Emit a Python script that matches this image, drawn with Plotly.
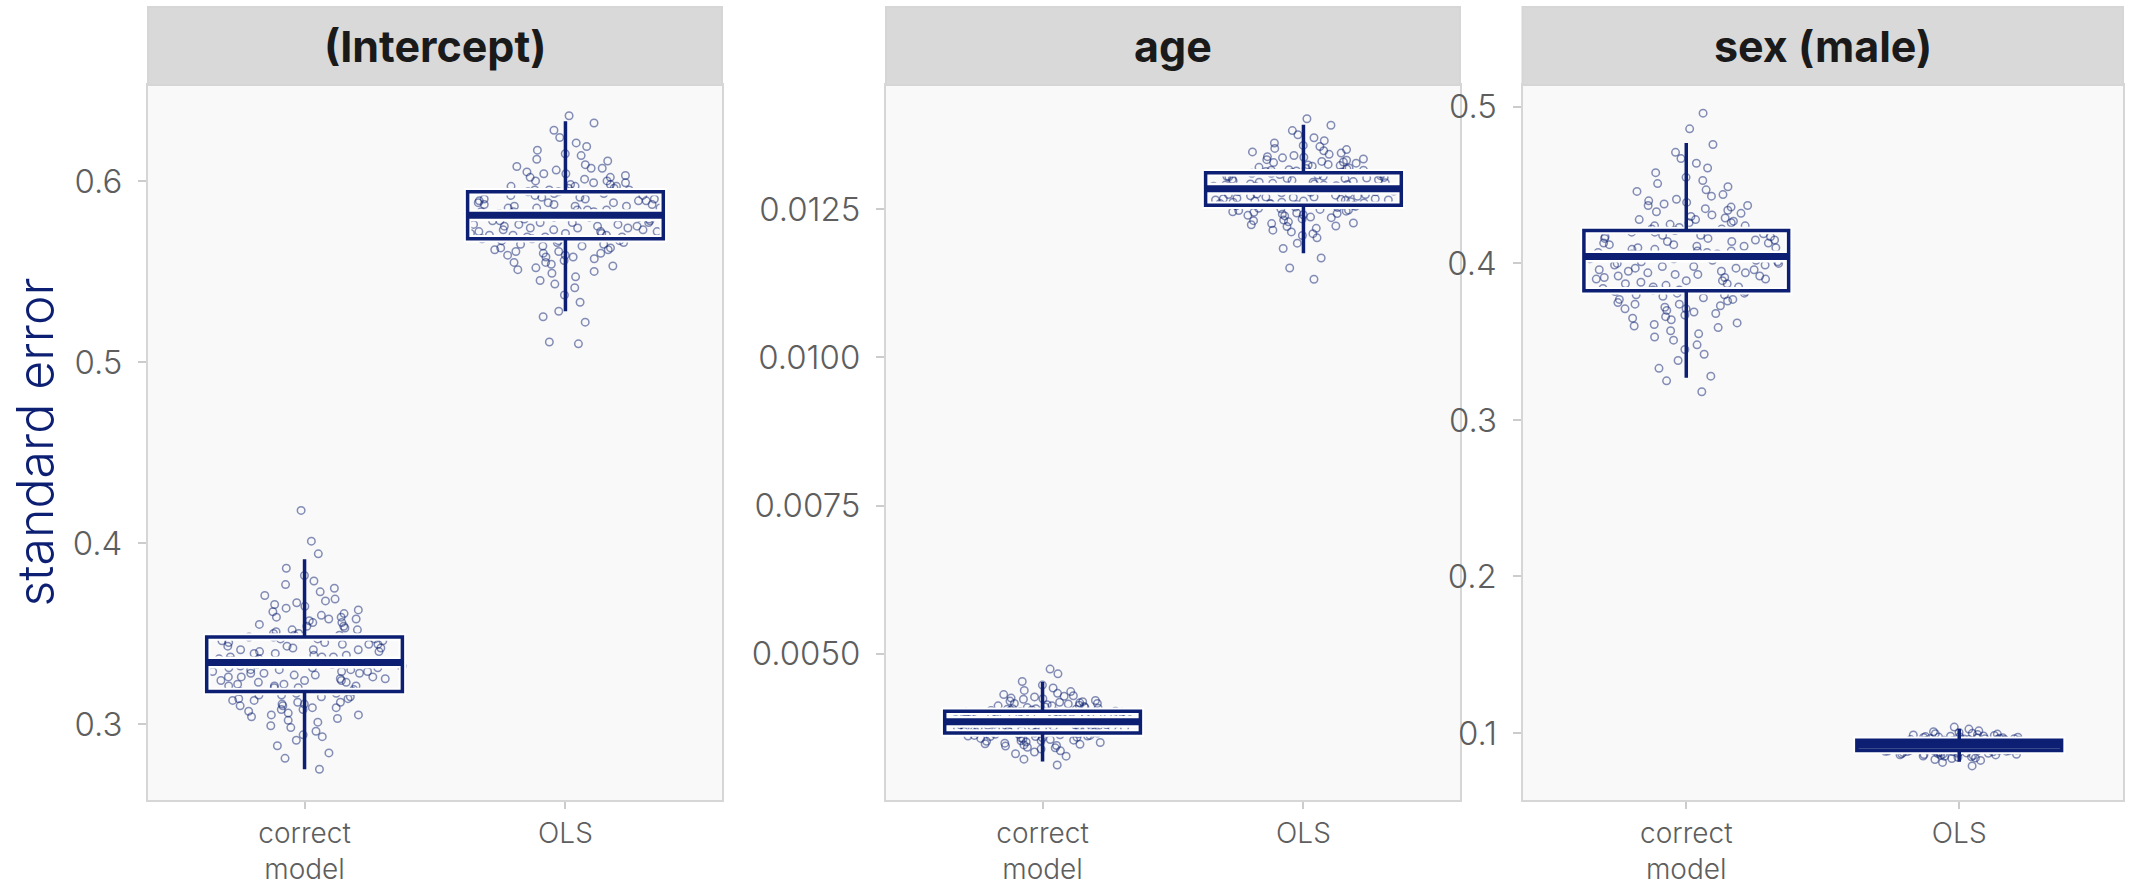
import plotly.graph_objects as go

# ---------------- data ----------------
categories = ["correct model", "OLS"]
tick_labels = ["correct<br>model", "OLS"]
facet_titles = ["(Intercept)", "age", "sex (male)"]

intercept_correct = [
    0.275, 0.281, 0.284, 0.288,
    0.291, 0.293, 0.294, 0.296, 0.298, 0.299,
    0.301, 0.302, 0.303, 0.304, 0.305, 0.305, 0.306, 0.307, 0.308, 0.308, 0.309, 0.309,
    0.310, 0.310, 0.311, 0.311, 0.312, 0.312, 0.313, 0.313, 0.314, 0.314, 0.315, 0.315, 0.316, 0.316, 0.317, 0.317, 0.318, 0.318, 0.319,
    0.320, 0.320, 0.321, 0.321, 0.321, 0.322, 0.322, 0.323, 0.323, 0.324, 0.324, 0.324, 0.325, 0.325, 0.326, 0.326, 0.326, 0.327, 0.327, 0.328, 0.328, 0.328, 0.329, 0.329, 0.329,
    0.330, 0.330, 0.330, 0.331, 0.331, 0.331, 0.332, 0.332, 0.332, 0.333, 0.333, 0.333, 0.334, 0.334, 0.334, 0.335, 0.335, 0.335, 0.336, 0.336, 0.337, 0.337, 0.337, 0.338, 0.338, 0.339, 0.339,
    0.340, 0.340, 0.341, 0.341, 0.341, 0.342, 0.342, 0.343, 0.343, 0.344, 0.344, 0.344, 0.345, 0.345, 0.346, 0.346, 0.347, 0.347, 0.347, 0.348, 0.348, 0.349, 0.349,
    0.350, 0.350, 0.351, 0.352, 0.352, 0.353, 0.354, 0.354, 0.355, 0.356, 0.356, 0.357, 0.358, 0.358, 0.359, 0.359,
    0.360, 0.361, 0.362, 0.363, 0.364, 0.365, 0.366, 0.367, 0.368, 0.369,
    0.371, 0.373, 0.375, 0.377, 0.379,
    0.382, 0.386, 0.394, 0.401, 0.418,
]
intercept_ols = [
    0.510, 0.511,
    0.522, 0.525, 0.528,
    0.533, 0.537,
    0.541, 0.543, 0.545, 0.547, 0.549,
    0.550, 0.551, 0.552, 0.553, 0.554, 0.555, 0.555, 0.556, 0.557, 0.558, 0.558, 0.559, 0.559,
    0.560, 0.560, 0.561, 0.561, 0.562, 0.562, 0.563, 0.563, 0.564, 0.564, 0.565, 0.565, 0.566, 0.566, 0.567, 0.567, 0.567, 0.568, 0.568, 0.569, 0.569, 0.569,
    0.570, 0.570, 0.570, 0.571, 0.571, 0.571, 0.572, 0.572, 0.572, 0.573, 0.573, 0.573, 0.574, 0.574, 0.574, 0.575, 0.575, 0.575, 0.576, 0.576, 0.576, 0.577, 0.577, 0.577, 0.578, 0.578, 0.578, 0.579, 0.579,
    0.580, 0.580, 0.580, 0.581, 0.581, 0.581, 0.582, 0.582, 0.582, 0.583, 0.583, 0.583, 0.584, 0.584, 0.584, 0.585, 0.585, 0.585, 0.586, 0.586, 0.586, 0.587, 0.587, 0.587, 0.588, 0.588, 0.588, 0.589, 0.589, 0.589,
    0.590, 0.590, 0.590, 0.591, 0.591, 0.592, 0.592, 0.592, 0.593, 0.593, 0.594, 0.594, 0.595, 0.595, 0.595, 0.596, 0.596, 0.597, 0.597, 0.597, 0.598, 0.598, 0.599, 0.599,
    0.600, 0.600, 0.601, 0.602, 0.602, 0.603, 0.604, 0.604, 0.605, 0.606, 0.607, 0.607, 0.608, 0.609,
    0.611, 0.612, 0.614, 0.615, 0.617, 0.619,
    0.621, 0.624, 0.628,
    0.632, 0.636,
]
age_correct = [
    0.00312,
    0.00322, 0.00327,
    0.00331, 0.00334, 0.00336, 0.00339,
    0.00341, 0.00342, 0.00344, 0.00345, 0.00346, 0.00347, 0.00348, 0.00349,
    0.00350, 0.00351, 0.00352, 0.00353, 0.00353, 0.00354, 0.00355, 0.00356, 0.00357, 0.00358, 0.00358, 0.00359,
    0.00360, 0.00360, 0.00361, 0.00361, 0.00362, 0.00362, 0.00363, 0.00364, 0.00364, 0.00365, 0.00366, 0.00366, 0.00367, 0.00367, 0.00368, 0.00369, 0.00369,
    0.00370, 0.00370, 0.00371, 0.00371, 0.00372, 0.00372, 0.00373, 0.00373, 0.00374, 0.00374, 0.00375, 0.00375, 0.00376, 0.00376, 0.00377, 0.00377, 0.00378, 0.00378, 0.00379, 0.00379,
    0.00380, 0.00380, 0.00381, 0.00381, 0.00382, 0.00382, 0.00383, 0.00383, 0.00384, 0.00384, 0.00385, 0.00385, 0.00385, 0.00386, 0.00386, 0.00387, 0.00387, 0.00388, 0.00388, 0.00389, 0.00389,
    0.00390, 0.00390, 0.00391, 0.00391, 0.00392, 0.00392, 0.00393, 0.00393, 0.00394, 0.00394, 0.00395, 0.00395, 0.00396, 0.00396, 0.00397, 0.00397, 0.00398, 0.00398, 0.00399, 0.00399,
    0.00400, 0.00400, 0.00401, 0.00401, 0.00402, 0.00402, 0.00403, 0.00404, 0.00404, 0.00405, 0.00406, 0.00406, 0.00407, 0.00407, 0.00408, 0.00409, 0.00409,
    0.00410, 0.00411, 0.00412, 0.00412, 0.00413, 0.00414, 0.00415, 0.00416, 0.00416, 0.00417, 0.00418, 0.00419,
    0.00420, 0.00421, 0.00423, 0.00424, 0.00425, 0.00427, 0.00428, 0.00429,
    0.00431, 0.00433, 0.00436, 0.00438,
    0.00442, 0.00447,
    0.00453, 0.00466, 0.00474,
]
age_ols = [
    0.01132,
    0.01151,
    0.01168,
    0.01184, 0.01193,
    0.01202, 0.01206, 0.01209, 0.01212, 0.01215, 0.01218,
    0.01221, 0.01222, 0.01224, 0.01226, 0.01227, 0.01229, 0.01231, 0.01232, 0.01234, 0.01236, 0.01237, 0.01239,
    0.01240, 0.01241, 0.01242, 0.01243, 0.01244, 0.01245, 0.01246, 0.01247, 0.01248, 0.01249, 0.01250, 0.01251, 0.01252, 0.01253, 0.01254, 0.01255, 0.01256, 0.01257, 0.01258, 0.01259,
    0.01260, 0.01260, 0.01261, 0.01262, 0.01262, 0.01263, 0.01264, 0.01264, 0.01265, 0.01266, 0.01266, 0.01267, 0.01268, 0.01268, 0.01269, 0.01270, 0.01271, 0.01271, 0.01272, 0.01273, 0.01274, 0.01275, 0.01275, 0.01276, 0.01277, 0.01278, 0.01279,
    0.01280, 0.01280, 0.01281, 0.01282, 0.01282, 0.01283, 0.01284, 0.01284, 0.01285, 0.01285, 0.01286, 0.01287, 0.01287, 0.01288, 0.01289, 0.01289, 0.01290, 0.01291, 0.01291, 0.01292, 0.01293, 0.01293, 0.01294, 0.01295, 0.01296, 0.01296, 0.01297, 0.01298, 0.01299,
    0.01300, 0.01301, 0.01302, 0.01302, 0.01303, 0.01304, 0.01305, 0.01306, 0.01306, 0.01307, 0.01308, 0.01309, 0.01310, 0.01311, 0.01311, 0.01312, 0.01313, 0.01314, 0.01315, 0.01316, 0.01316, 0.01317, 0.01318, 0.01319,
    0.01320, 0.01321, 0.01323, 0.01324, 0.01325, 0.01326, 0.01328, 0.01329, 0.01330, 0.01331, 0.01333, 0.01334, 0.01335, 0.01337, 0.01338, 0.01339,
    0.01341, 0.01343, 0.01345, 0.01347, 0.01349, 0.01351, 0.01353, 0.01356, 0.01358,
    0.01362, 0.01366, 0.01371, 0.01376,
    0.01383, 0.01392, 0.01403,
]
sex_correct = [
    0.318,
    0.325, 0.328,
    0.333, 0.338,
    0.342, 0.345, 0.348,
    0.351, 0.353, 0.355, 0.357, 0.359,
    0.360, 0.361, 0.362, 0.364, 0.365, 0.366, 0.367, 0.368, 0.369,
    0.370, 0.371, 0.371, 0.372, 0.373, 0.374, 0.374, 0.375, 0.376, 0.377, 0.377, 0.378, 0.379,
    0.380, 0.380, 0.381, 0.381, 0.382, 0.382, 0.383, 0.383, 0.384, 0.385, 0.385, 0.386, 0.387, 0.387, 0.388, 0.389, 0.389,
    0.390, 0.390, 0.391, 0.391, 0.392, 0.392, 0.393, 0.393, 0.394, 0.394, 0.395, 0.395, 0.396, 0.396, 0.397, 0.397, 0.398, 0.398, 0.399, 0.399,
    0.400, 0.400, 0.401, 0.401, 0.402, 0.402, 0.403, 0.403, 0.404, 0.404, 0.405, 0.405, 0.405, 0.406, 0.406, 0.407, 0.407, 0.408, 0.408, 0.409, 0.409,
    0.410, 0.410, 0.411, 0.411, 0.412, 0.412, 0.413, 0.413, 0.414, 0.414, 0.415, 0.415, 0.416, 0.416, 0.417, 0.417, 0.418, 0.418, 0.419,
    0.420, 0.420, 0.421, 0.422, 0.422, 0.423, 0.424, 0.424, 0.425, 0.426, 0.426, 0.427, 0.428, 0.428, 0.429,
    0.430, 0.431, 0.432, 0.433, 0.434, 0.435, 0.436, 0.437, 0.437, 0.438, 0.439,
    0.440, 0.441, 0.443, 0.444, 0.446, 0.447, 0.449,
    0.451, 0.453, 0.455, 0.458,
    0.461, 0.464, 0.467,
    0.471, 0.476, 0.486, 0.496,
]
sex_ols = [
    0.0790,
    0.0812,
    0.0825, 0.0831, 0.0837,
    0.0841, 0.0845, 0.0848, 0.0851, 0.0853, 0.0856, 0.0858,
    0.0860, 0.0861, 0.0863, 0.0864, 0.0865, 0.0867, 0.0868, 0.0870, 0.0871, 0.0873, 0.0874, 0.0876, 0.0877, 0.0879,
    0.0880, 0.0881, 0.0882, 0.0883, 0.0884, 0.0885, 0.0886, 0.0886, 0.0887, 0.0888, 0.0889,
    0.0890, 0.0891, 0.0892, 0.0893, 0.0893, 0.0894, 0.0895, 0.0896, 0.0897, 0.0898, 0.0899,
    0.0900, 0.0901, 0.0901, 0.0902, 0.0903, 0.0903, 0.0904, 0.0905, 0.0905, 0.0906, 0.0907, 0.0907, 0.0908, 0.0909,
    0.0909, 0.0910, 0.0911, 0.0911, 0.0912, 0.0913, 0.0913, 0.0914, 0.0915, 0.0915, 0.0916, 0.0917, 0.0918, 0.0919,
    0.0920, 0.0921, 0.0921, 0.0922, 0.0923, 0.0923, 0.0924, 0.0925, 0.0925, 0.0926, 0.0927, 0.0927, 0.0928, 0.0929,
    0.0929, 0.0930, 0.0931, 0.0931, 0.0932, 0.0933, 0.0933, 0.0934, 0.0935, 0.0935, 0.0936, 0.0937, 0.0938, 0.0939,
    0.0940, 0.0941, 0.0942, 0.0942, 0.0943, 0.0944, 0.0945, 0.0945, 0.0946, 0.0947, 0.0948,
    0.0949, 0.0950, 0.0951, 0.0952, 0.0953, 0.0954, 0.0955, 0.0956, 0.0957, 0.0958, 0.0959,
    0.0960, 0.0961, 0.0963, 0.0964, 0.0965, 0.0967, 0.0968, 0.0970, 0.0971, 0.0973, 0.0974, 0.0976, 0.0977, 0.0979,
    0.0981, 0.0984, 0.0987, 0.0990, 0.0993, 0.0995, 0.0998,
    0.1003, 0.1008, 0.1014,
    0.1025, 0.1038,
]

# box statistics per facet: [correct model, OLS]
box_lowerfence = [[0.275, 0.528], [0.00318, 0.01176], [0.327, 0.0817]]
box_q1 = [[0.318, 0.568], [0.00366, 0.01257], [0.3825, 0.0889]]
box_median = [[0.334, 0.581], [0.00385, 0.01285], [0.4044, 0.0921]]
box_q3 = [[0.348, 0.594], [0.00403, 0.01312], [0.421, 0.0953]]
box_upperfence = [[0.391, 0.633], [0.00452, 0.01393], [0.477, 0.1026]]

y_ticks = [[0.3, 0.4, 0.5, 0.6], [0.005, 0.0075, 0.01, 0.0125], [0.1, 0.2, 0.3, 0.4, 0.5]]
y_tickformats = [".1f", ".4f", ".1f"]
y_ranges = [[0.258, 0.653], [0.00253, 0.0146], [0.0572, 0.514]]

points = [[intercept_correct, intercept_ols], [age_correct, age_ols], [sex_correct, sex_ols]]

# ---------------- style ----------------
NAVY = "#0c1f72"
POINT = "rgba(12,31,114,0.5)"
FONT = "Inter, Lato, 'Open Sans', sans-serif"
W, H = 2143, 887
ML, MR, MT, MB = 148, 20, 85, 87
plot_w = W - ML - MR
plot_h = H - MT - MB
strip_h = 78 / plot_h
domains = [[0, (722 - ML) / plot_w], [(886 - ML) / plot_w, (1460 - ML) / plot_w], [(1522.5 - ML) / plot_w, 1]]

fig = go.Figure()
for i in range(3):
    xa = "x" if i == 0 else f"x{i+1}"
    ya = "y" if i == 0 else f"y{i+1}"
    for j, cat in enumerate(categories):
        vals = points[i][j]
        fig.add_trace(go.Box(
            x=[cat] * len(vals), y=vals, xaxis=xa, yaxis=ya,
            boxpoints="all", jitter=1.0, pointpos=0, width=0.75,
            line=dict(width=0, color="rgba(0,0,0,0)"), fillcolor="rgba(0,0,0,0)",
            whiskerwidth=0,
            marker=dict(symbol="circle-open", size=7.5, color=POINT, line=dict(width=1.5, color=POINT)),
            hoverinfo="skip", showlegend=False,
        ))
    # white halo under box outline
    fig.add_trace(go.Box(
        x=categories, q1=box_q1[i], median=box_median[i], q3=box_q3[i],
        lowerfence=box_q1[i], upperfence=box_q3[i],
        xaxis=xa, yaxis=ya, boxpoints=False, width=0.75, whiskerwidth=0,
        line=dict(color="white", width=7.5), fillcolor="rgba(0,0,0,0)",
        hoverinfo="skip", showlegend=False,
    ))
    fig.add_trace(go.Box(
        x=categories, q1=box_median[i], median=box_median[i], q3=box_median[i],
        lowerfence=box_median[i], upperfence=box_median[i],
        xaxis=xa, yaxis=ya, boxpoints=False, width=0.75, whiskerwidth=0,
        line=dict(color="white", width=12), fillcolor="rgba(0,0,0,0)",
        hoverinfo="skip", showlegend=False,
    ))
    # navy box
    fig.add_trace(go.Box(
        x=categories, q1=box_q1[i], median=box_median[i], q3=box_q3[i],
        lowerfence=box_lowerfence[i], upperfence=box_upperfence[i],
        xaxis=xa, yaxis=ya, boxpoints=False, width=0.75, whiskerwidth=0,
        line=dict(color=NAVY, width=3.5), fillcolor="rgba(0,0,0,0)",
        hoverinfo="skip", showlegend=False,
    ))
    # thick median
    fig.add_trace(go.Box(
        x=categories, q1=box_median[i], median=box_median[i], q3=box_median[i],
        lowerfence=box_median[i], upperfence=box_median[i],
        xaxis=xa, yaxis=ya, boxpoints=False, width=0.75, whiskerwidth=0,
        line=dict(color=NAVY, width=7), fillcolor="rgba(0,0,0,0)",
        hoverinfo="skip", showlegend=False,
    ))

    axis_common = dict(
        ticks="outside", tickwidth=2, tickcolor="#cccccc",
        showline=True, mirror=True, linecolor="#d6d6d6", linewidth=2,
        showgrid=False, zeroline=False, automargin=False,
    )
    fig.update_layout(**{
        ("xaxis" if i == 0 else f"xaxis{i+1}"): dict(
            domain=domains[i], anchor=ya, type="category",
            categoryorder="array", categoryarray=categories,
            range=[-0.6, 1.6], tickmode="array", tickvals=categories, ticktext=tick_labels,
            ticklen=7, ticklabelstandoff=0,
            tickfont=dict(family=FONT, size=28, color="#5e5e5e", weight=300),
            **axis_common),
        ("yaxis" if i == 0 else f"yaxis{i+1}"): dict(
            domain=[0, 1], anchor=xa, range=y_ranges[i],
            tickmode="array", tickvals=y_ticks[i], tickformat=y_tickformats[i],
            ticklen=8, ticklabelstandoff=9,
            tickfont=dict(family=FONT, size=33, color="#5e5e5e", weight=300),
            **axis_common),
    })
    fig.add_shape(type="rect", xref=f"{xa} domain", yref=f"{ya} domain",
                  x0=0, x1=1, y0=1, y1=1 + strip_h,
                  fillcolor="#d9d9d9", line=dict(color="#d6d6d6", width=2), layer="above")
    fig.add_annotation(xref=f"{xa} domain", yref=f"{ya} domain", x=0.5, y=1 + strip_h / 2,
                       text=f"<b>{facet_titles[i]}</b>", showarrow=False,
                       xanchor="center", yanchor="middle",
                       font=dict(family=FONT, size=43, color="#1a1a1a"))

fig.add_annotation(xref="paper", yref="paper", x=(34 - ML) / plot_w, y=0.5,
                   text="standard error", textangle=-90, showarrow=False,
                   xanchor="center", yanchor="middle",
                   font=dict(family=FONT, size=50, color=NAVY, weight=300))

fig.update_layout(
    width=W, height=H,
    margin=dict(l=ML, r=MR, t=MT, b=MB, autoexpand=False),
    paper_bgcolor="white", plot_bgcolor="#f9f9f9",
    boxmode="overlay", showlegend=False,
)
fig.write_html("out.html")
